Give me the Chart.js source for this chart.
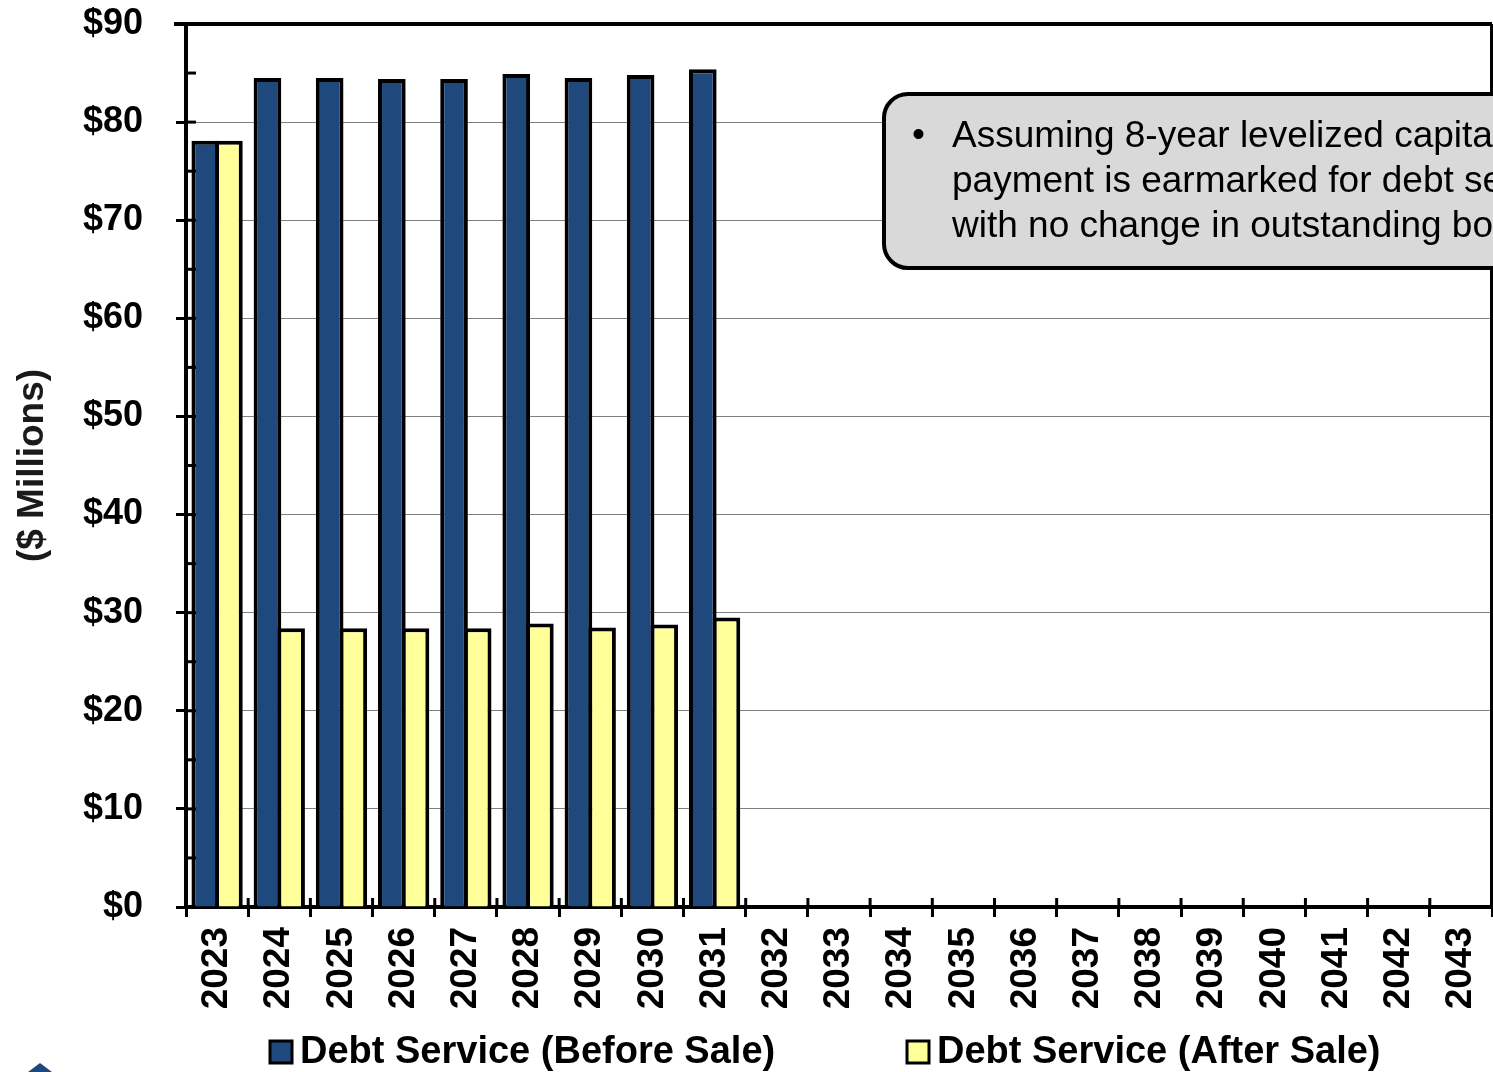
<!DOCTYPE html>
<html>
<head>
<meta charset="utf-8">
<title>Debt Service</title>
<script src="https://cdn.jsdelivr.net/npm/chart.js@4.4.1/dist/chart.umd.min.js"></script>
<style>
    html, body { margin: 0; padding: 0; background: #fff; }
    .wrap { width: 1493px; height: 1072px; position: relative; }
</style>
</head>
<body>
<div class="wrap"><canvas id="debtChart" width="1493" height="1072"></canvas></div>
<script>
// ======================== Data ======================== //
const years = ['2023', '2024', '2025', '2026', '2027', '2028', '2029', '2030', '2031', '2032', '2033',
    '2034', '2035', '2036', '2037', '2038', '2039', '2040', '2041', '2042', '2043'];
const beforeSale = [78.1, 84.5, 84.5, 84.4, 84.4, 84.9, 84.5, 84.8, 85.4];
const afterSale = [78.1, 28.4, 28.4, 28.4, 28.4, 28.9, 28.5, 28.8, 29.5];
const yTicks = [0, 10, 20, 30, 40, 50, 60, 70, 80, 90];
const calloutLines = [
    'Assuming 8-year levelized capital',
    'payment is earmarked for debt service',
    'with no change in outstanding bonds'
];

const FONT = '"Liberation Sans", Arial, sans-serif';

// ======================== Extra drawing ======================== //
const extras = {
    id: 'extras',
    afterDatasetsDraw(chart) {
        const ctx = chart.ctx;
        const area = chart.chartArea;
        const y = chart.scales.y;
        const x = chart.scales.x;
        ctx.save();
        ctx.strokeStyle = '#000';

        // top border + right border
        ctx.lineWidth = 4;
        ctx.beginPath();
        ctx.moveTo(area.left - 12, area.top);
        ctx.lineTo(area.right, area.top);
        ctx.moveTo(area.right, area.top);
        ctx.lineTo(area.right, area.bottom);
        ctx.stroke();

        // y ticks inside the plot (major + minor at $5)
        ctx.lineWidth = 3;
        for (let v = 5; v < 90; v += 5) {
            const py = y.getPixelForValue(v);
            ctx.beginPath();
            ctx.moveTo(area.left, py);
            ctx.lineTo(area.left + 10, py);
            ctx.stroke();
        }

        // x ticks above the axis
        for (let i = 0; i <= years.length; i++) {
            const px = x.getPixelForValue(i - 0.5);
            ctx.beginPath();
            ctx.moveTo(px, area.bottom);
            ctx.lineTo(px, area.bottom - 9);
            ctx.stroke();
        }
        ctx.restore();
    },
    afterDraw(chart) {
        const ctx = chart.ctx;
        ctx.save();

        // callout box
        ctx.beginPath();
        ctx.roundRect(884, 94, 700, 174, 24);
        ctx.fillStyle = '#d9d9d9';
        ctx.fill();
        ctx.lineWidth = 4;
        ctx.strokeStyle = '#000';
        ctx.stroke();
        ctx.fillStyle = '#000';
        ctx.font = '37px ' + FONT;
        ctx.textBaseline = 'middle';
        ctx.fillText('\u2022', 912, 136);
        calloutLines.forEach((line, i) => ctx.fillText(line, 952, 137 + i * 45));

        // legend
        const legendX = [270, 907];
        ctx.font = 'bold 38px ' + FONT;
        chart.data.datasets.forEach((ds, i) => {
            ctx.fillStyle = ds.backgroundColor;
            ctx.fillRect(legendX[i], 1041, 22, 22);
            ctx.lineWidth = 3;
            ctx.strokeRect(legendX[i], 1041, 22, 22);
            ctx.fillStyle = '#000';
            ctx.fillText(ds.label, legendX[i] + 30, 1053);
        });

        // logo corner
        ctx.fillStyle = '#1f497d';
        ctx.beginPath();
        ctx.moveTo(40, 1063);
        ctx.lineTo(52, 1072);
        ctx.lineTo(28, 1072);
        ctx.closePath();
        ctx.fill();
        ctx.restore();
    }
};

// ======================== Chart ======================== //
const ctx = document.getElementById('debtChart');

new Chart(ctx, {
    type: 'bar',
    data: {
        labels: years,
        datasets: [{
            label: 'Debt Service (Before Sale)',
            data: beforeSale,
            backgroundColor: '#1f497d',
            borderColor: '#000',
            borderWidth: 4,
            barPercentage: 1.17,
            categoryPercentage: 0.76
        },
        {
            label: 'Debt Service (After Sale)',
            data: afterSale,
            backgroundColor: '#ffff99',
            borderColor: '#000',
            borderWidth: 4,
            barPercentage: 1.17,
            categoryPercentage: 0.76
        }]
    },
    options: {
        responsive: false,
        animation: false,
        layout: {
            padding: { top: 24, left: 0, right: 1, bottom: 0 }
        },
        scales: {
            x: {
                afterFit: scale => {
                    scale.height = 165;
                    scale.paddingLeft = 0;
                    scale.paddingRight = 0;
                },
                border: { display: true, color: '#000', width: 4 },
                grid: {
                    display: true,
                    drawOnChartArea: false,
                    drawTicks: true,
                    tickLength: 10,
                    tickColor: '#000',
                    tickWidth: 3
                },
                ticks: {
                    color: '#000',
                    minRotation: 90,
                    maxRotation: 90,
                    padding: 10,
                    autoSkip: false,
                    font: { family: FONT, size: 37, weight: 'bold' }
                }
            },
            y: {
                min: 0,
                max: 90,
                afterFit: scale => {
                    scale.width = 186;
                    scale.paddingTop = 0;
                    scale.paddingBottom = 0;
                },
                afterBuildTicks: scale => { scale.ticks = yTicks.map(v => ({ value: v })); },
                border: { display: true, color: '#000', width: 4 },
                grid: {
                    color: '#808080',
                    lineWidth: 1,
                    tickLength: 10,
                    tickColor: '#000',
                    tickWidth: 3
                },
                ticks: {
                    color: '#000',
                    padding: 33,
                    font: { family: FONT, size: 36, weight: 'bold' },
                    callback: v => '$' + v
                },
                title: {
                    display: true,
                    text: '($ Millions)',
                    color: '#1a1a1a',
                    padding: { top: 11, bottom: 0 },
                    font: { family: FONT, size: 37, weight: 'bold' }
                }
            }
        },
        plugins: {
            legend: { display: false },
            tooltip: { enabled: false }
        }
    },
    plugins: [extras]
});
</script>
</body>
</html>
